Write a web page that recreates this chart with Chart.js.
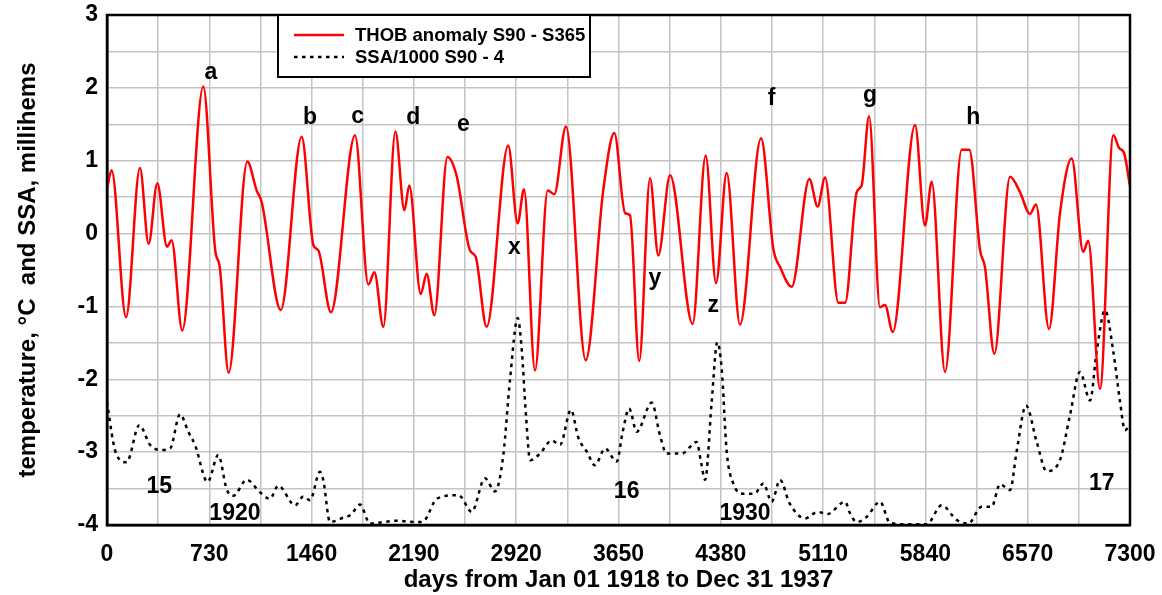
<!DOCTYPE html>
<html>
<head>
  <title>THOB anomaly and SSA</title>
  <script src="https://cdn.jsdelivr.net/npm/chart.js"></script>
  <style>
    body { margin: 0; background: #fff; }
    canvas { display: block; }
  </style>
</head>
<body>
  <canvas id="chart" width="1162" height="595"></canvas>

  <script>
    // THOB anomaly S90 - S365 (days, degC)
    const thobDays = [0, 33, 136, 235, 297, 359, 428, 461, 537, 687, 771, 806, 868, 1001, 1068, 1104, 1240, 1389,
      1473, 1508, 1598, 1770, 1865, 1908, 1972, 2058, 2122, 2157, 2239, 2281, 2336, 2429, 2495, 2590, 2631, 2709,
      2863, 2930, 2976, 3054, 3145, 3192, 3275, 3416, 3541, 3620, 3697, 3732, 3798, 3875, 3934, 4018, 4179, 4272,
      4346, 4422, 4517, 4667, 4755, 4803, 4886, 5012, 5071, 5124, 5219, 5267, 5350, 5385, 5438, 5516, 5552, 5607,
      5766, 5837, 5885, 5980, 6099, 6153, 6230, 6265, 6332, 6444, 6515, 6586, 6629, 6722, 6801, 6884, 6966, 7002,
      7086, 7181, 7224, 7257, 7300];
    const thobVals = [0.62, 0.87, -1.15, 0.90, -0.14, 0.69, -0.18, -0.09, -1.33, 2.02, -0.21, -0.48, -1.91, 0.99, 0.59, 0.43, -1.05, 1.33,
      -0.16, -0.23, -1.08, 1.35, -0.70, -0.53, -1.28, 1.40, 0.32, 0.66, -0.83, -0.55, -1.12, 1.05, 0.79, -0.23, -0.32, -1.28,
      1.21, 0.14, 0.61, -1.88, 0.59, 0.54, 1.47, -1.74, 0.59, 1.38, 0.28, 0.25, -1.75, 0.76, -0.30, 0.80, -1.24, 1.07,
      -0.68, 0.83, -1.25, 1.31, -0.21, -0.46, -0.73, 0.75, 0.37, 0.77, -0.95, -0.95, 0.57, 0.66, 1.61, -1.01, -0.98, -1.35,
      1.49, 0.11, 0.71, -1.90, 1.15, 1.15, -0.23, -0.46, -1.65, 0.78, 0.57, 0.27, 0.40, -1.31, 0.29, 1.03, -0.25, -0.10,
      -2.13, 1.35, 1.17, 1.11, 0.65];

    // SSA/1000 S90 - 4 (days, millihems - 4)
    const ssaDays = [0, 45, 69, 140, 231, 307, 378, 450, 521, 580, 628, 718, 794, 854, 901, 997, 1092, 1163, 1222,
      1342, 1401, 1449, 1520, 1545, 1591, 1686, 1740, 1805, 1877, 1972, 2070, 2127, 2234, 2270, 2353, 2507, 2530, 2602,
      2697, 2769, 2828, 2876, 2931, 2959, 2990, 3019, 3090, 3173, 3233, 3311, 3363, 3423, 3482, 3554, 3637, 3680, 3726,
      3780, 3887, 3946, 3994, 4101, 4208, 4240, 4268, 4315, 4355, 4386, 4422, 4469, 4541, 4620, 4684, 4743, 4803, 4870,
      4981, 5071, 5140, 5267, 5300, 5350, 5420, 5516, 5587, 5700, 5850, 5956, 6063, 6146, 6241, 6313, 6372, 6444,
      6491, 6558, 6634, 6705, 6800, 6872, 6943, 7015, 7062, 7122, 7181, 7229, 7264, 7300];
    const ssaVals = [-2.31, -2.87, -3.04, -3.14, -2.63, -2.90, -2.97, -2.95, -2.48, -2.72, -2.90, -3.41, -3.04, -3.51, -3.60, -3.38, -3.55, -3.64, -3.46,
      -3.73, -3.61, -3.66, -3.27, -3.40, -3.96, -3.90, -3.86, -3.72, -3.98, -3.96, -3.94, -3.95, -3.96, -3.93, -3.64, -3.59, -3.62, -3.82,
      -3.36, -3.54, -3.04, -2.00, -1.16, -1.58, -2.50, -3.11, -3.02, -2.84, -2.90, -2.42, -2.80, -2.99, -3.18, -2.95, -3.13, -2.72, -2.40,
      -2.72, -2.32, -2.77, -3.02, -3.02, -2.86, -3.15, -3.38, -2.31, -1.49, -1.85, -2.99, -3.43, -3.57, -3.57, -3.43, -3.68, -3.38, -3.70,
      -3.91, -3.82, -3.85, -3.68, -3.83, -3.96, -3.89, -3.68, -3.97, -3.99, -3.99, -3.73, -3.93, -3.98, -3.75, -3.75, -3.44, -3.52,
      -2.99, -2.36, -2.86, -3.26, -3.11, -2.49, -1.90, -2.29, -1.62, -1.05, -1.62, -2.31, -2.70, -2.62];

    // text notes on the plot, placed in data units
    const noteText = ['a', 'b', 'c', 'd', 'e', 'f', 'g', 'h', 'x', 'y', 'z', '15', '1920', '16', '1930', '17'];
    const noteDays = [742, 1449, 1789, 2186, 2543, 4743, 5445, 6182, 2907, 3910, 4327, 373, 913, 3708, 4553, 7098];
    const noteVals = [2.21, 1.59, 1.61, 1.59, 1.49, 1.85, 1.89, 1.59, -0.19, -0.62, -0.99, -3.47, -3.85, -3.54, -3.85, -3.43];

    const legendLabels = ['THOB anomaly S90 - S365', 'SSA/1000 S90 - 4'];

    const FONT = "'Liberation Sans', Arial, sans-serif";

    const extras = {
      id: 'extras',
      afterDraw(chart) {
        const c = chart.ctx;
        const a = chart.chartArea;
        const xs = chart.scales.x, ys = chart.scales.y;
        c.save();

        // notes
        c.fillStyle = '#000';
        c.font = 'bold 23px ' + FONT;
        c.textAlign = 'center';
        c.textBaseline = 'middle';
        noteText.forEach((t, i) => {
          c.fillText(t, xs.getPixelForValue(noteDays[i]), ys.getPixelForValue(noteVals[i]));
        });

        // frame
        c.strokeStyle = '#000';
        c.lineWidth = 2.5;
        c.strokeRect(a.left, a.top, a.right - a.left, a.bottom - a.top);

        // legend box
        const bx = a.left + 171, by = a.top, bw = 312, bh = 62;
        c.fillStyle = '#fff';
        c.fillRect(bx, by, bw, bh);
        c.lineWidth = 2;
        c.strokeRect(bx, by, bw, bh);
        const ds = chart.data.datasets;
        [20, 42].forEach((dy, i) => {
          c.beginPath();
          c.strokeStyle = ds[i].borderColor;
          c.lineWidth = 2.5;
          c.setLineDash(ds[i].borderDash || []);
          c.moveTo(bx + 16, by + dy);
          c.lineTo(bx + 66, by + dy);
          c.stroke();
          c.setLineDash([]);
          c.fillStyle = '#000';
          c.font = 'bold 18.5px ' + FONT;
          c.textAlign = 'left';
          c.fillText(legendLabels[i], bx + 77, by + dy + 1);
        });
        c.restore();
      }
    };

    const ctx = document.getElementById('chart').getContext('2d');
    new Chart(ctx, {
      type: 'line',
      data: {
        datasets: [
          {
            label: legendLabels[0],
            data: thobDays.map((d, i) => ({ x: d, y: thobVals[i] })),
            borderColor: '#ff0000',
            borderWidth: 2.5,
            pointRadius: 0,
            cubicInterpolationMode: 'monotone',
            fill: false
          },
          {
            label: legendLabels[1],
            data: ssaDays.map((d, i) => ({ x: d, y: ssaVals[i] })),
            borderColor: '#000000',
            borderWidth: 2.5,
            borderDash: [3.5, 4.5],
            pointRadius: 0,
            cubicInterpolationMode: 'monotone',
            fill: false
          }
        ]
      },
      options: {
        responsive: false,
        animation: false,
        layout: { padding: { top: 15, right: 32, left: 0, bottom: 0 } },
        plugins: { legend: { display: false }, tooltip: { enabled: false } },
        scales: {
          x: {
            type: 'linear',
            min: 0,
            max: 7300,
            afterFit: s => { s.height = 70; s.paddingLeft = 0; s.paddingRight = 0; },
            ticks: {
              stepSize: 365,
              maxTicksLimit: 30,
              autoSkip: false,
              maxRotation: 0,
              padding: 16,
              color: '#000',
              font: { family: FONT, size: 23, weight: 'bold' },
              callback: v => (v % 730 === 0 ? String(v) : '')
            },
            grid: { color: '#c4c4c4', lineWidth: 1.5, drawTicks: false },
            border: { display: true, color: '#000', width: 2.5 },
            title: {
              display: true,
              text: 'days from Jan 01 1918 to Dec 31 1937',
              color: '#000',
              font: { family: FONT, size: 24, weight: 'bold' },
              padding: { top: 0, bottom: 0 }
            }
          },
          y: {
            min: -4,
            max: 3,
            afterFit: s => { s.width = 107; s.paddingTop = 0; s.paddingBottom = 0; },
            ticks: {
              stepSize: 0.5,
              maxTicksLimit: 30,
              padding: 9,
              color: '#000',
              font: { family: FONT, size: 23, weight: 'bold' },
              callback: v => (Number.isInteger(v) ? String(v) : '')
            },
            grid: { color: '#c4c4c4', lineWidth: 1.5, drawTicks: false },
            border: { display: true, color: '#000', width: 2.5 },
            title: {
              display: true,
              text: 'temperature, \u00B0C  and SSA, millihems',
              color: '#000',
              font: { family: FONT, size: 24, weight: 'bold' },
              padding: { top: 14, bottom: 0 }
            }
          }
        }
      },
      plugins: [extras]
    });
  </script>
</body>
</html>
